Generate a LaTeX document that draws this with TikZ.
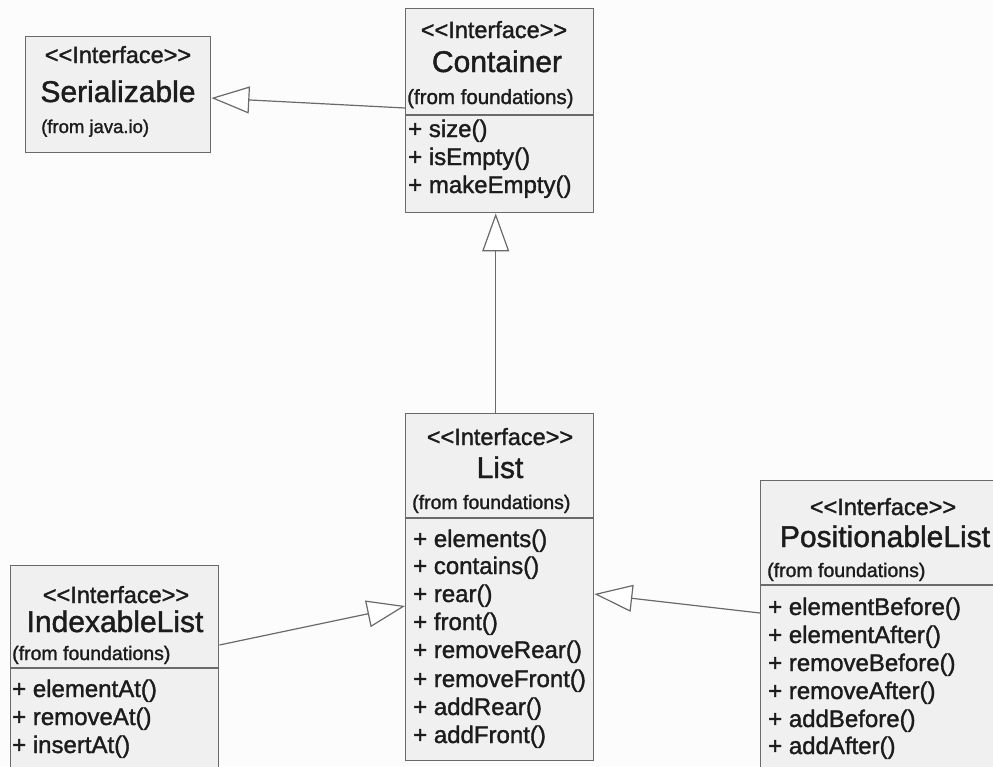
\documentclass[tikz,border=0pt]{standalone}
\usepackage{fontspec}
\setmainfont[FakeBold=1.4]{Liberation Sans}
\usetikzlibrary{arrows.meta}
\definecolor{boxfill}{HTML}{F0F0F0}
\definecolor{edge}{HTML}{6A6A6A}
\definecolor{ink}{HTML}{1C1C1C}
\definecolor{bg}{HTML}{FCFCFC}
\newcommand{\stereotxt}{{<}{<}Interface{>}{>}}
\tikzset{
  umlbox/.style={draw=edge, line width=1.4pt, fill=boxfill, anchor=north west, inner sep=0pt},
  divider/.style={draw=edge, line width=1.2pt},
  stereo/.style={anchor=base, inner sep=0pt, text=ink, font=\fontsize{23.5}{28}\selectfont},
  cname/.style={anchor=base, inner sep=0pt, text=ink, font=\fontsize{30}{34}\selectfont},
  fromtxt/.style={anchor=base west, inner sep=0pt, text=ink, font=\fontsize{19.5}{22}\selectfont},
  meth/.style={anchor=base west, inner sep=0pt, text=ink, font=\fontsize{24}{28}\selectfont},
  inherit/.style={draw=edge, line width=1.2pt, -{Triangle[length=38pt,width=27pt,fill=white]}},
}
\begin{document}
\begin{tikzpicture}[x=1pt,y=-1pt]
\useasboundingbox (0,0) rectangle (993,766);
\fill[bg] (0,0) rectangle (993,766);
\clip (0,0) rectangle (993,766);

% Serializable
\node[umlbox, minimum width=185pt, minimum height=116pt] (ser) at (25,36) {};
\node[stereo] (serS) at (118,63) {\stereotxt};
\node[cname] (serN) at (118,102) {Serializable};
\node[fromtxt, font=\fontsize{18.5}{22}\selectfont] (serF) at (41,133) {(from java.io)};

% Container
\node[umlbox, minimum width=188pt, minimum height=204pt] (cont) at (405,8) {};
\draw[divider] (405,115) -- (593,115);
\node[stereo] (contS) at (494,38) {\stereotxt};
\node[cname] (contN) at (497,72) {Container};
\node[fromtxt, font=\fontsize{20.5}{22}\selectfont] (contF) at (407,104) {(from foundations)};
\node[meth] (c1) at (408,137) {+ size()};
\node[meth] (c2) at (408,165) {+ isEmpty()};
\node[meth] (c3) at (408,193) {+ makeEmpty()};

% List
\node[umlbox, minimum width=188pt, minimum height=347pt] (list) at (405,413) {};
\draw[divider] (405,518) -- (593,518);
\node[stereo] (listS) at (500,445) {\stereotxt};
\node[cname] (listN) at (500,478) {List};
\node[fromtxt] (listF) at (412,509) {(from foundations)};
\node[meth] (l1) at (413,547) {+ elements()};
\node[meth] (l2) at (413,574) {+ contains()};
\node[meth] (l3) at (413,602) {+ rear()};
\node[meth] (l4) at (413,630) {+ front()};
\node[meth] (l5) at (413,658) {+ removeRear()};
\node[meth] (l6) at (413,687) {+ removeFront()};
\node[meth] (l7) at (413,715) {+ addRear()};
\node[meth] (l8) at (413,743) {+ addFront()};

% IndexableList
\node[umlbox, minimum width=208pt, minimum height=230pt] (idx) at (10,565) {};
\draw[divider] (10,668) -- (218,668);
\node[stereo] (idxS) at (116,603) {\stereotxt};
\node[cname] (idxN) at (115,632) {IndexableList};
\node[fromtxt] (idxF) at (12,660) {(from foundations)};
\node[meth] (i1) at (12,697) {+ elementAt()};
\node[meth] (i2) at (12,725) {+ removeAt()};
\node[meth] (i3) at (12,753) {+ insertAt()};

% PositionableList
\node[umlbox, minimum width=255pt, minimum height=310pt] (pos) at (760,480) {};
\draw[divider] (760,585) -- (1015,585);
\node[stereo] (posS) at (883,515) {\stereotxt};
\node[cname] (posN) at (885,547) {PositionableList};
\node[fromtxt] (posF) at (767,577) {(from foundations)};
\node[meth] (p1) at (768,615) {+ elementBefore()};
\node[meth] (p2) at (768,643) {+ elementAfter()};
\node[meth] (p3) at (768,671) {+ removeBefore()};
\node[meth] (p4) at (768,699) {+ removeAfter()};
\node[meth] (p5) at (768,727) {+ addBefore()};
\node[meth] (p6) at (768,754) {+ addAfter()};

% Generalizations
\draw[inherit] ([yshift=-100pt]cont.north west) -- ([yshift=-62pt]ser.north east);
\draw[inherit] ([xshift=-4pt]list.north) -- ([xshift=-4pt]cont.south);
\draw[inherit] ([yshift=-80pt]idx.north east) -- ([yshift=-193pt]list.north west);
\draw[inherit] ([yshift=-133pt]pos.north west) -- ([yshift=-181pt]list.north east);
\end{tikzpicture}
\end{document}
